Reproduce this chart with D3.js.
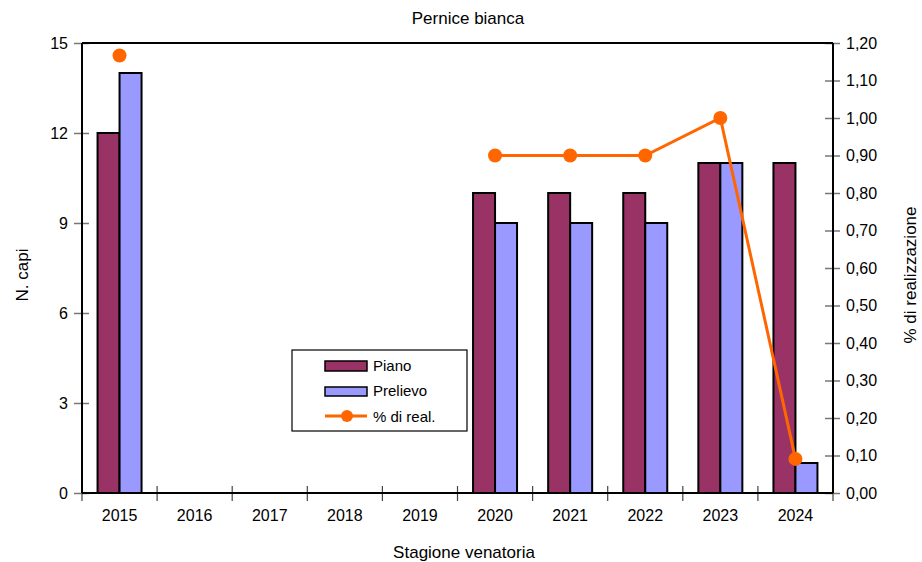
<!DOCTYPE html>
<html>
<head>
<meta charset="utf-8">
<script src="https://cdn.jsdelivr.net/npm/d3@7"></script>
<style>
  body { margin: 0; background: #fff; }
  text { font-family: "Liberation Sans", Arial, sans-serif; fill: #000; }
</style>
</head>
<body>
<div id="chart"></div>
<script>
// data
const seasons = ['2015', '2016', '2017', '2018', '2019', '2020', '2021', '2022', '2023', '2024']
const piano = [12, null, null, null, null, 10, 10, 10, 11, 11]
const prelievo = [14, null, null, null, null, 9, 9, 9, 11, 1]
const realizzazione = [1.1667, null, null, null, null, 0.9, 0.9, 0.9, 1.0, 0.0909]
const leftTicks = [0, 3, 6, 9, 12, 15]
const rightTicks = [0, 0.1, 0.2, 0.3, 0.4, 0.5, 0.6, 0.7, 0.8, 0.9, 1.0, 1.1, 1.2]

let width = 922
let height = 562
let plotL = 82, plotR = 833, plotT = 43, plotB = 493
let font = '"Liberation Sans", Arial, sans-serif'

let svg = d3.select('#chart')
	.append('svg')
	.attr('width', width)
	.attr('height', height)

let x = d3.scaleBand().domain(seasons).range([plotL, plotR])
let y = d3.scaleLinear().domain([0, 15]).range([plotB, plotT])
let y2 = d3.scaleLinear().domain([0, 1.2]).range([plotB, plotT])

let barW = 22

// bars
seasons.forEach((s, i) => {
	let cx = x(s) + x.bandwidth() / 2
	if (piano[i] != null) {
		svg.append('rect')
			.attr('x', cx - barW)
			.attr('y', y(piano[i]))
			.attr('width', barW)
			.attr('height', y(0) - y(piano[i]))
			.attr('fill', '#993366')
			.attr('stroke', '#000')
			.attr('stroke-width', 2)
	}
	if (prelievo[i] != null) {
		svg.append('rect')
			.attr('x', cx)
			.attr('y', y(prelievo[i]))
			.attr('width', barW)
			.attr('height', y(0) - y(prelievo[i]))
			.attr('fill', '#9999FF')
			.attr('stroke', '#000')
			.attr('stroke-width', 2)
	}
})

// axes
let leftAxis = d3.axisLeft(y).tickValues(leftTicks).tickSize(0).tickPadding(14)
let gL = svg.append('g').attr('transform', `translate(${plotL},0)`).call(leftAxis)
gL.select('.domain').remove()
gL.selectAll('text').attr('font-size', 16).style('font-family', font)
gL.selectAll('.tick').append('line').attr('x1', -8).attr('x2', 7).attr('stroke', '#777').attr('stroke-width', 1.5)

let fmt = d => d3.format('.2f')(d).replace('.', ',')
let rightAxis = d3.axisRight(y2).tickValues(rightTicks).tickFormat(fmt).tickSize(0).tickPadding(13)
let gR = svg.append('g').attr('transform', `translate(${plotR},0)`).call(rightAxis)
gR.select('.domain').remove()
gR.selectAll('text').attr('font-size', 16).style('font-family', font)
gR.selectAll('.tick').append('line').attr('x1', -8).attr('x2', 7).attr('stroke', '#777').attr('stroke-width', 1.5)

let bottomAxis = d3.axisBottom(x).tickSize(0).tickPadding(17)
let gB = svg.append('g').attr('transform', `translate(0,${plotB})`).call(bottomAxis)
gB.select('.domain').remove()
gB.selectAll('text').attr('font-size', 16).style('font-family', font)
let bounds = seasons.map(s => x(s)).concat([plotR])
gB.selectAll('.bound').data(bounds).join('line')
	.attr('x1', d => d).attr('x2', d => d)
	.attr('y1', -7).attr('y2', 8)
	.attr('stroke', '#444').attr('stroke-width', 1.2)

// frame lines
svg.append('line').attr('x1', plotL).attr('x2', plotL).attr('y1', plotT).attr('y2', plotB).attr('stroke', '#000').attr('stroke-width', 2)
svg.append('line').attr('x1', plotR).attr('x2', plotR).attr('y1', plotT).attr('y2', plotB).attr('stroke', '#000').attr('stroke-width', 2)
svg.append('line').attr('x1', plotL).attr('x2', plotR).attr('y1', plotT).attr('y2', plotT).attr('stroke', '#000').attr('stroke-width', 2)
svg.append('line').attr('x1', plotL).attr('x2', plotR).attr('y1', plotB).attr('y2', plotB).attr('stroke', '#000').attr('stroke-width', 2)

// line series
let lineGen = d3.line()
	.defined(d => d.v != null)
	.x(d => x(d.s) + x.bandwidth() / 2)
	.y(d => y2(d.v))
let pts = seasons.map((s, i) => ({ s: s, v: realizzazione[i] }))
svg.append('path')
	.datum(pts)
	.attr('d', lineGen)
	.attr('fill', 'none')
	.attr('stroke', '#FF6600')
	.attr('stroke-width', 3)
svg.selectAll('.pt').data(pts.filter(d => d.v != null)).join('circle')
	.attr('cx', d => x(d.s) + x.bandwidth() / 2)
	.attr('cy', d => y2(d.v))
	.attr('r', 7)
	.attr('fill', '#FF6600')

// titles
svg.append('text').attr('x', 468).attr('y', 24).attr('text-anchor', 'middle').attr('font-size', 17).text('Pernice bianca')
svg.append('text').attr('x', 464).attr('y', 558).attr('text-anchor', 'middle').attr('font-size', 17).text('Stagione venatoria')
svg.append('text').attr('transform', 'translate(28,275) rotate(-90)').attr('text-anchor', 'middle').attr('font-size', 17).text('N. capi')
svg.append('text').attr('transform', 'translate(916,275) rotate(-90)').attr('text-anchor', 'middle').attr('font-size', 17).text('% di realizzazione')

// legend
let lg = svg.append('g').attr('transform', 'translate(292,350)')
lg.append('rect').attr('width', 175).attr('height', 81).attr('fill', '#fff').attr('stroke', '#000').attr('stroke-width', 1.2)
lg.append('rect').attr('x', 33).attr('y', 11).attr('width', 42).attr('height', 10).attr('fill', '#993366').attr('stroke', '#000').attr('stroke-width', 1.5)
lg.append('text').attr('x', 81).attr('y', 21).attr('font-size', 15).text('Piano')
lg.append('rect').attr('x', 33).attr('y', 37).attr('width', 42).attr('height', 9).attr('fill', '#9999FF').attr('stroke', '#000').attr('stroke-width', 1.5)
lg.append('text').attr('x', 81).attr('y', 46).attr('font-size', 15).text('Prelievo')
lg.append('line').attr('x1', 33).attr('x2', 75).attr('y1', 66).attr('y2', 66).attr('stroke', '#FF6600').attr('stroke-width', 3)
lg.append('circle').attr('cx', 55).attr('cy', 66).attr('r', 6).attr('fill', '#FF6600')
lg.append('text').attr('x', 81).attr('y', 72).attr('font-size', 15).text('% di real.')
</script>
</body>
</html>
